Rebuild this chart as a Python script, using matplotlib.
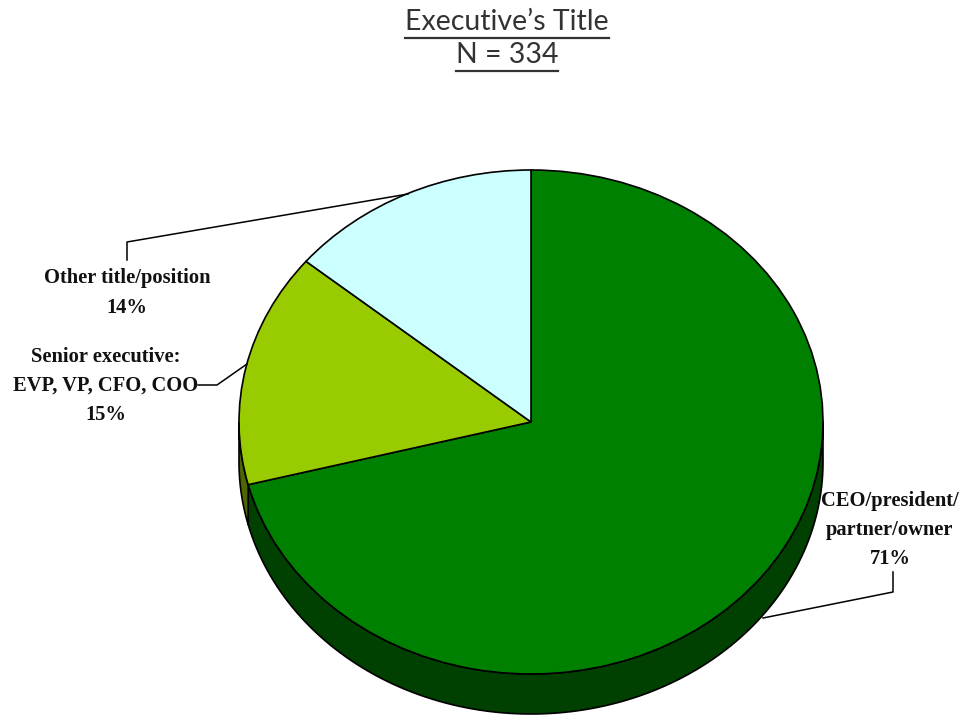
import numpy as np
import matplotlib
matplotlib.use("Agg")
import matplotlib.pyplot as plt
from matplotlib.patches import Polygon

# survey breakdown of respondents by job title
labels = ["CEO/president/\npartner/owner", "Senior executive:\nEVP, VP, CFO, COO", "Other title/position"]
shares = [71, 15, 14]
top_colors = ["#008000", "#99cc00", "#ccffff"]
side_colors = ["#004000", "#4d6600", "#667f7f"]
title_lines = ["Executive\u2019s Title", "N = 334"]

W, H = 961, 715
CX, CY = 531, 422      # pie centre in pixels
RX, RY = 292, 252      # ellipse radii in pixels
DEPTH = 40             # thickness of the side wall in pixels

fig = plt.figure(figsize=(W / 100, H / 100), dpi=100)
ax = fig.add_axes([0, 0, 1, 1])


def px(x, y):
    # pixel position -> data coords
    return (x - CX) / RX, (CY - y) / RY


d = DEPTH / RY

# draw the top faces first so we can read their angles back
wedges, _ = ax.pie(shares, colors=top_colors, startangle=90, counterclock=False,
                   radius=1, center=(0, 0),
                   wedgeprops=dict(edgecolor="black", linewidth=1.2, zorder=3))
# pie() forces a round pie; squash it into an ellipse instead
ax.set_aspect("auto")
ax.set_xlim(-CX / RX, (W - CX) / RX)
ax.set_ylim(-(H - CY) / RY, CY / RY)
ax.axis("off")

# side walls on the front (lower) half of the ellipse
for w, col in zip(wedges, side_colors):
    for lo, hi in [(-180, 0), (180, 360)]:
        a = max(w.theta1, lo)
        b = min(w.theta2, hi)
        if b <= a:
            continue
        t = np.radians(np.linspace(a, b, 120))
        top = np.column_stack([np.cos(t), np.sin(t)])
        bot = np.column_stack([np.cos(t[::-1]), np.sin(t[::-1]) - d])
        ax.add_patch(Polygon(np.vstack([top, bot]), closed=True, facecolor=col,
                             edgecolor="black", linewidth=1.2, zorder=2))

# labels and leader lines
lab_font = dict(family="Liberation Serif", fontweight="bold", fontsize=14.8,
                ha="center", va="center", linespacing=1.62, color="#111111")

ax.text(*px(890, 530), labels[0] + "\n%d%%" % shares[0], **lab_font)
ax.text(*px(106, 386), labels[1] + "\n%d%%" % shares[1], **lab_font)
ax.text(*px(127, 293), labels[2] + "\n%d%%" % shares[2], **lab_font)

leaders = [
    [(763, 618), (893, 592), (893, 572)],
    [(198, 385), (217, 385), (247, 364)],
    [(408, 194), (127, 242), (127, 260)],
]
for pts in leaders:
    xy = np.array([px(x, y) for x, y in pts])
    ax.plot(xy[:, 0], xy[:, 1], color="black", linewidth=1.1, zorder=4)

# underlined two-line title
fig.canvas.draw()
renderer = fig.canvas.get_renderer()
for line, yc in zip(title_lines, [22, 55]):
    t = fig.text(507 / W, 1 - yc / H, line, ha="center", va="center",
                 family="Lato", fontsize=20.5, color="#333333")
    bb = t.get_window_extent(renderer)
    y_ul = 1 - (yc + 16) / H
    fig.add_artist(plt.Line2D([bb.x0 / W, bb.x1 / W], [y_ul, y_ul],
                              transform=fig.transFigure, color="#333333", linewidth=1.6))

fig.savefig("out.png", dpi=100)
